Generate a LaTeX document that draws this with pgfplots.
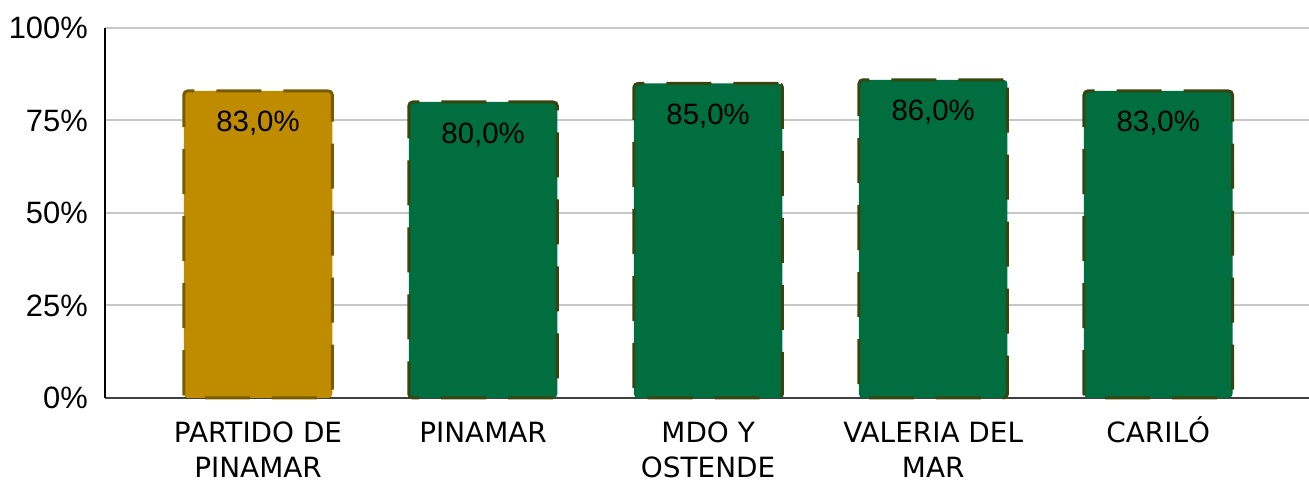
\documentclass[border=0pt]{standalone}
\usepackage{pgfplots}
\pgfplotsset{compat=1.18}
\usepackage{fontspec}
\setmainfont{Liberation Sans}
\newfontfamily\verd{DejaVu Sans}
\definecolor{gold}{RGB}{191,140,0}
\definecolor{dgreen}{RGB}{0,110,63}
\definecolor{goldedge}{RGB}{120,90,0}
\definecolor{greenedge}{RGB}{55,70,15}
\begin{document}
\begin{tikzpicture}[x=1bp,y=1bp]
\useasboundingbox (0,0) rectangle (1309,482);
\begin{axis}[
  at={(105bp,84bp)}, anchor=south west,
  scale only axis, width=1204bp, height=370bp,
  xmin=-0.68, xmax=4.67, ymin=0, ymax=100,
  axis x line=bottom, axis y line=left,
  axis line style={-},
  x axis line style={draw=black!75, line width=2bp},
  y axis line style={draw=black, line width=2bp},
  major tick length=0pt,
  ytick={0,25,50,75,100},
  yticklabels={0\%,25\%,50\%,75\%,100\%},
  yticklabel style={font=\fontsize{31}{36}\selectfont, inner sep=0pt, xshift=-17bp},
  ymajorgrids, grid style={color=black!22, line width=2bp},
  xtick={0,1,2,3,4},
  xticklabels={PARTIDO DE\\PINAMAR, PINAMAR, MDO Y\\OSTENDE, VALERIA DEL\\MAR, CARIL\smash{Ó}},
  xticklabel style={align=center, font=\verd\fontsize{28}{35}\selectfont, anchor=north, inner sep=0pt, yshift=-24bp},
  ybar, bar width=0.66, bar shift=0pt,
  clip=false,
  /pgf/number format/assume math mode=true,
  nodes near coords={\pgfmathprintnumber[fixed, fixed zerofill, precision=1, use comma]{\pgfplotspointmeta}\%},
  every node near coord/.append style={font=\fontsize{29.5}{34}\selectfont, text=black, anchor=north, inner sep=0pt, yshift=-19bp},
]
\addplot[fill=gold, draw=goldedge, line width=3bp, dash pattern=on 45bp off 22bp, rounded corners=4bp]
  coordinates {(0,83)};
\addplot[fill=dgreen, draw=greenedge, line width=3bp, dash pattern=on 45bp off 22bp, rounded corners=4bp]
  coordinates {(1,80) (2,85) (3,86) (4,83)};
\end{axis}
\end{tikzpicture}
\end{document}
